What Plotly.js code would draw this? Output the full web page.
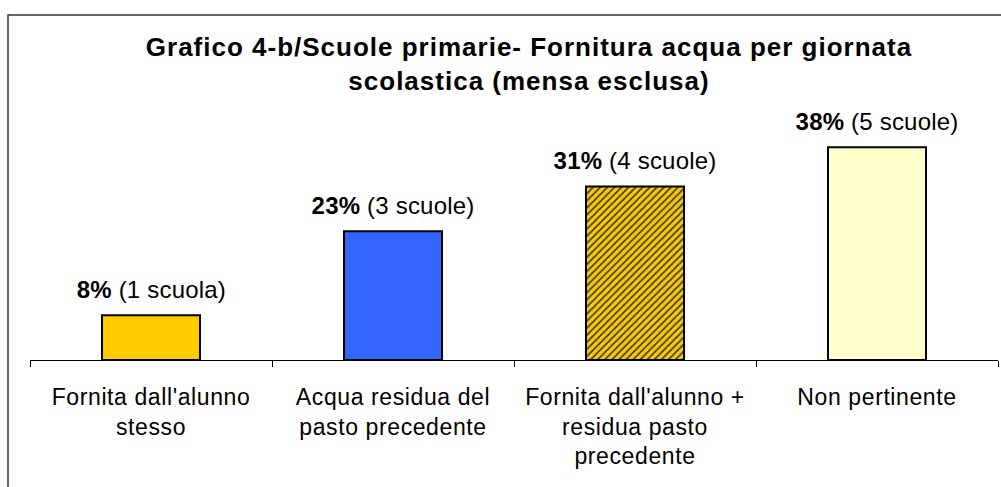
<!DOCTYPE html>
<html>
<head>
<meta charset="utf-8">
<script src="https://cdn.plot.ly/plotly-3.0.1.min.js"></script>
<style>
  html, body { margin: 0; padding: 0; background: #ffffff; }
  #chart { width: 1001px; height: 487px; }
  #chart .gtitle { letter-spacing: 1px; }
  #chart .xtick text { letter-spacing: 0.6px; }
  #chart .annotation-text { letter-spacing: 0.2px; }
</style>
</head>
<body>
<div id="chart"></div>
<script>
const categories = [
  "Fornita dall'alunno<br>stesso",
  "Acqua residua del<br>pasto precedente",
  "Fornita dall'alunno +<br>residua pasto<br>precedente",
  "Non pertinente"
];
const percentages = [8, 23, 31, 38];
const schoolCounts = [1, 3, 4, 5];
const fillColors = ["#FFCC00", "#3366FF", "#FFCC00", "#FFFFCC"];
const titleText = "Grafico 4-b/Scuole primarie- Fornitura acqua per giornata<br>scolastica (mensa esclusa)";

const labels = percentages.map((p, i) =>
  "<b>" + p + "%</b> (" + schoolCounts[i] + (schoolCounts[i] === 1 ? " scuola)" : " scuole)"));

const FONT = "Liberation Sans, Arial, Helvetica, sans-serif";

const trace = {
  type: "bar",
  x: categories,
  y: percentages,
  width: 0.405,
  marker: {
    color: fillColors,
    line: { color: "#000000", width: 2 },
    pattern: {
      shape: ["", "", "/", ""],
      fgcolor: "#5B80E8",
      fgopacity: 1,
      size: 5,
      solidity: 0.35,
      fillmode: "overlay"
    }
  },
  hoverinfo: "none"
};

const annotations = categories.map((c, i) => ({
  x: c, y: percentages[i], xref: "x", yref: "y",
  text: labels[i], showarrow: false,
  yanchor: "bottom", yshift: 10,
  font: { family: FONT, size: 24, color: "#000000" }
}));

const layout = {
  width: 1001, height: 487,
  margin: { l: 30, r: 3, t: 100, b: 127 },
  paper_bgcolor: "#ffffff",
  plot_bgcolor: "#ffffff",
  showlegend: false,
  title: {
    text: titleText,
    font: { family: FONT, size: 26, color: "#000000", weight: "bold" },
    x: 0.5155, xref: "paper", xanchor: "center",
    y: 1 - 56 / 487, yref: "container", yanchor: "top"
  },
  xaxis: {
    type: "category",
    range: [-0.5, 3.5],
    showline: true, linecolor: "#000000", linewidth: 1,
    ticks: "outside", tickson: "boundaries", ticklen: 6, tickcolor: "#000000", tickwidth: 1,
    ticklabelstandoff: 16,
    showgrid: false, zeroline: false,
    tickfont: { family: FONT, size: 23, color: "#000000" },
    fixedrange: true
  },
  yaxis: {
    range: [0, 46.43],
    visible: false,
    showgrid: false, zeroline: false,
    fixedrange: true
  },
  shapes: [{
    type: "rect", xref: "paper", yref: "paper",
    x0: (8 - 30) / 968, x1: (1010 - 30) / 968,
    y0: (360 - 500) / 260, y1: (360 - 15) / 260,
    line: { color: "#333333", width: 1.5 },
    fillcolor: "rgba(0,0,0,0)",
    layer: "below"
  }],
  annotations: annotations
};

Plotly.newPlot("chart", [trace], layout, { displayModeBar: false, staticPlot: true });
</script>
</body>
</html>
